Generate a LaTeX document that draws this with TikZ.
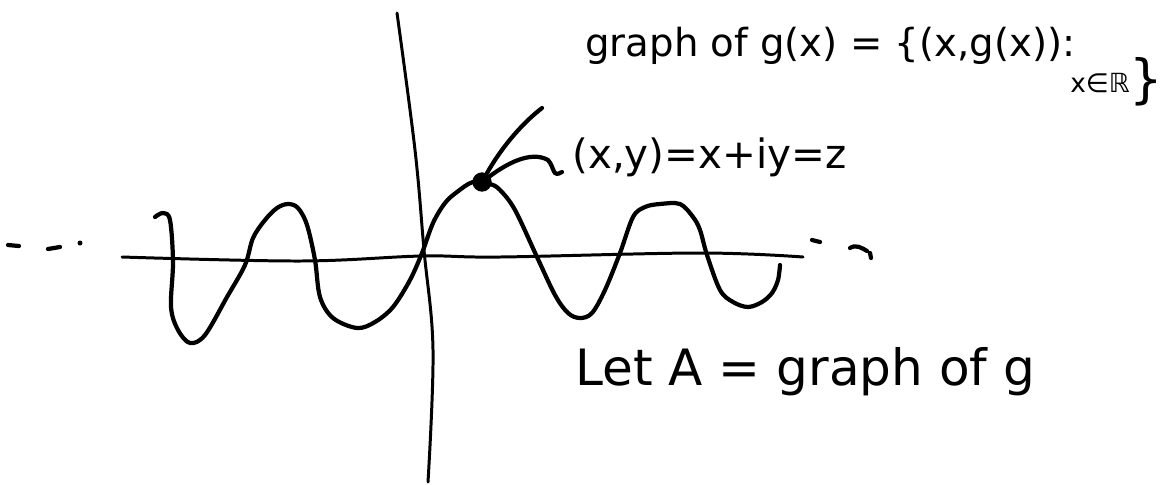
\documentclass[tikz,border=0pt]{standalone}
\usepackage{fontspec}
\setmainfont{DejaVu Sans}
\begin{document}
\begin{tikzpicture}[x=0.02cm,y=-0.02cm,
  ink/.style={line width=2.4pt,line cap=round,line join=round,black},
  axis/.style={line width=1.7pt,line cap=round,black},
  hand/.style={inner sep=0pt,anchor=west,text=black}]
\useasboundingbox (0,0) rectangle (1175,484);
% axes
\draw[axis] plot[smooth,tension=0.6] coordinates {(397,13) (415,150) (424,250) (433,350) (428,482)};
\draw[axis] plot[smooth,tension=0.6] coordinates {(122,257) (300,261) (422,256) (500,257) (700,253) (803,257)};
% curve
\draw[ink] plot[smooth,tension=0.55] coordinates {(155,217) (163,213) (170,220) (173,262) (171,307) (178,330) (190,343) (205,335) (227,297) (245,265) (253,238) (265,220) (277,208) (288,204) (298,208) (307,225) (315,260) (320,297) (333,318) (357,328) (375,322) (393,307) (410,280) (422,253) (433,223) (445,203) (457,192) (473,182) (490,184) (500,190) (515,210) (537,257) (555,295) (568,313) (580,318) (592,313) (605,290) (620,253) (633,217) (645,207) (660,204) (680,204) (693,217) (700,230) (707,255) (720,290) (733,302) (748,307) (762,302) (772,293) (778,280) (780,265)};
% dots
\draw[ink] (8,245) -- (19,246);
\draw[ink] (48,249) -- (60,247);
\fill (80,243) circle (2.5);
\draw[ink] (812,240) -- (820,242);
\draw[ink] (850,248) .. controls (856,244) and (862,248) .. (867,251);
\draw[ink] (870,253) -- (871,258);
% point
\node[circle,fill=black,inner sep=0pt,minimum size=11pt] (z) at (482,182) {};
\coordinate (lt) at (542,108);
\draw[ink] (lt) .. controls (520,125) and (500,150) .. (z);
\draw[ink] (z) .. controls (505,165) and (530,150) .. (548,160) .. controls (555,168) and (552,178) .. (562,172);
% texts
\node[hand,font=\fontsize{22}{26}\selectfont] (t1) at (585,46) {graph of g(x) = \{(x,g(x)):};
\node[hand] (t1b) at (1070,82) {{\fontsize{15}{18}\selectfont x∈ℝ}{\fontsize{30}{34}\selectfont\raisebox{-3pt}{\}}}};
\node[hand,font=\fontsize{23}{27}\selectfont] (zl) at (572,157) {(x,y)=x+iy=z};
\node[hand,font=\fontsize{28.5}{32}\selectfont] (t3) at (575,372) {Let A = graph of g};
\end{tikzpicture}
\end{document}
